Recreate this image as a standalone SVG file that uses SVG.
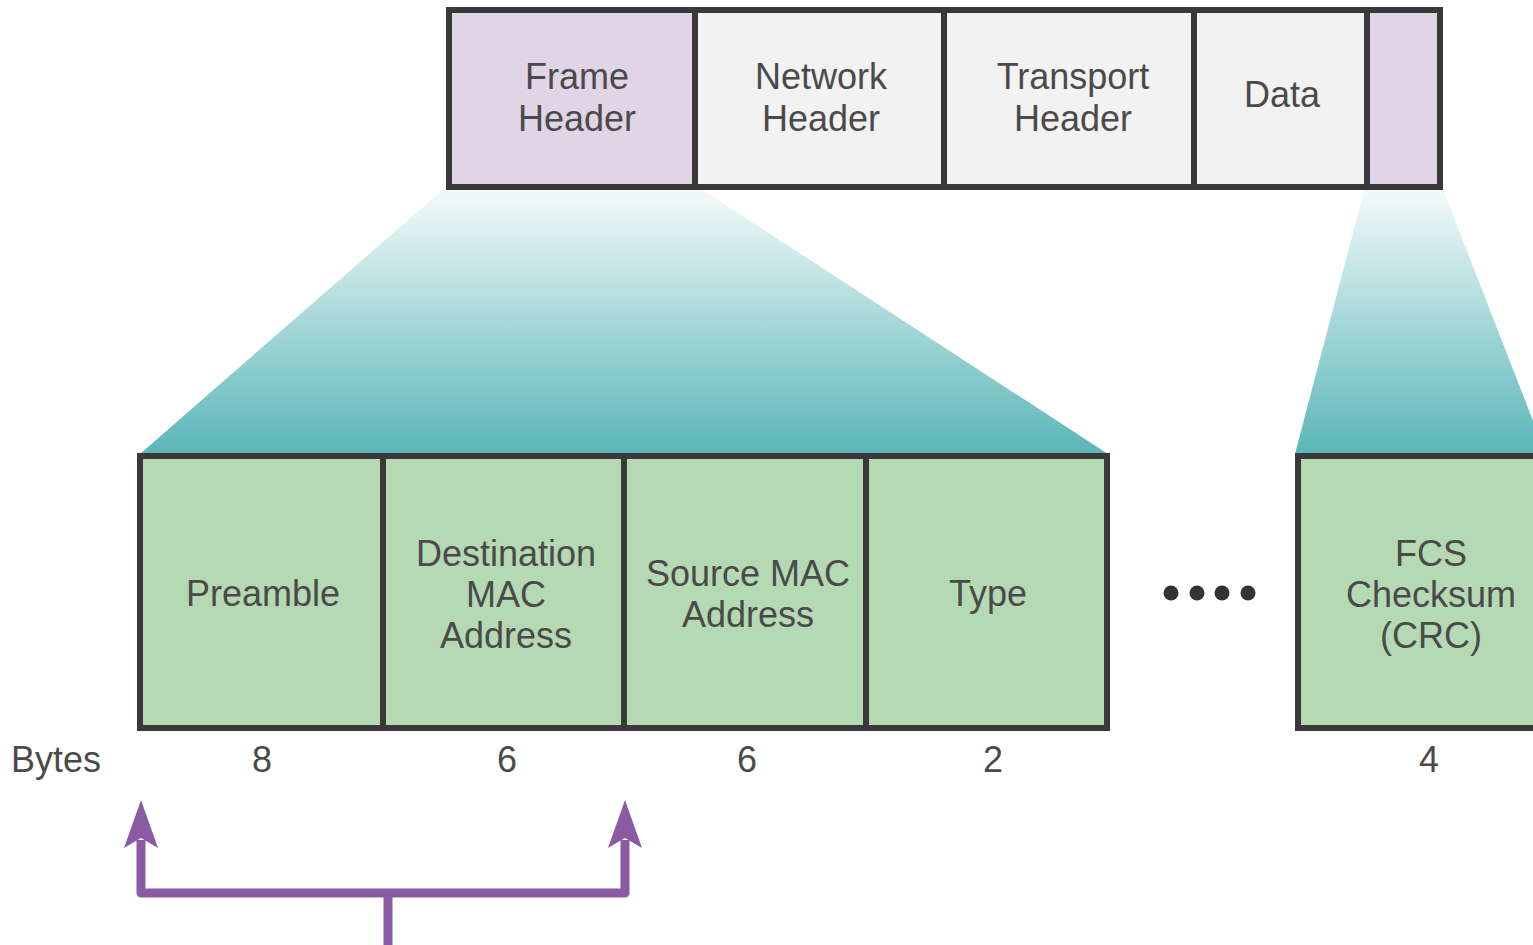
<svg xmlns="http://www.w3.org/2000/svg" width="1533" height="945" viewBox="0 0 1533 945">
<defs>
<linearGradient id="teal" x1="0" y1="0" x2="0" y2="1">
<stop offset="0" stop-color="#f4fbfa"/>
<stop offset="1" stop-color="#5bb6b8"/>
</linearGradient>
<style>
.box{stroke:#3a3839;stroke-width:6;}
.lav{fill:#e0d4e6;}
.gray{fill:#f2f2f2;}
.green{fill:#b5d9b3;}
.t{font-family:"Liberation Sans",Arial,sans-serif;font-size:36px;fill:#4a4a4a;text-anchor:middle;}
.conn{fill:none;stroke:#8a5aa2;stroke-width:9;stroke-linejoin:round;}
.head{fill:#8a5aa2;}
</style>
</defs>
<rect width="1533" height="945" fill="#ffffff"/>
<g id="expansions">
<polygon points="446,187 698,187 1108,454 140,454" fill="url(#teal)"/>
<polygon points="1365,187 1442,187 1546,454 1295,454" fill="url(#teal)"/>
</g>
<g id="frame-header"><rect class="box lav" x="449" y="10" width="246" height="177"/><text class="t" x="577" y="89">Frame</text><text class="t" x="577" y="131">Header</text></g>
<g id="network-header"><rect class="box gray" x="695" y="10" width="249" height="177"/><text class="t" x="821" y="89">Network</text><text class="t" x="821" y="131">Header</text></g>
<g id="transport-header"><rect class="box gray" x="944" y="10" width="250" height="177"/><text class="t" x="1073" y="89">Transport</text><text class="t" x="1073" y="131">Header</text></g>
<g id="data"><rect class="box gray" x="1194" y="10" width="173" height="177"/><text class="t" x="1282" y="107">Data</text></g>
<g id="trailer"><rect class="box lav" x="1367" y="10" width="73" height="177"/></g>
<g id="preamble"><rect class="box green" x="140" y="456" width="243" height="272"/><text class="t" x="263" y="606">Preamble</text></g>
<g id="dest-mac"><rect class="box green" x="383" y="456" width="241" height="272"/><text class="t" x="506" y="566">Destination</text><text class="t" x="506" y="607">MAC</text><text class="t" x="506" y="648">Address</text></g>
<g id="src-mac"><rect class="box green" x="624" y="456" width="242" height="272"/><text class="t" x="748" y="586">Source MAC</text><text class="t" x="748" y="627">Address</text></g>
<g id="type"><rect class="box green" x="866" y="456" width="241" height="272"/><text class="t" x="988" y="606">Type</text></g>
<g id="ellipsis" fill="#333"><circle cx="1171" cy="593" r="7.5"/><circle cx="1197" cy="593" r="7.5"/><circle cx="1222" cy="593" r="7.5"/><circle cx="1248" cy="593" r="7.5"/></g>
<g id="fcs"><rect class="box green" x="1298" y="456" width="260" height="272"/><text class="t" x="1431" y="566">FCS</text><text class="t" x="1431" y="607">Checksum</text><text class="t" x="1431" y="648">(CRC)</text></g>
<g id="bytes">
<text class="t" x="56" y="772">Bytes</text>
<text class="t" x="262" y="772">8</text>
<text class="t" x="507" y="772">6</text>
<text class="t" x="747" y="772">6</text>
<text class="t" x="993" y="772">2</text>
<text class="t" x="1429" y="772">4</text>
</g>
<g id="connectors">
<path class="conn" d="M141,840 V893 H625 V840"/>
<path class="conn" d="M388,893 V945"/>
<path class="head" d="M141,800 L158,848 L141,838 L124,848 Z"/>
<path class="head" d="M625,800 L642,848 L625,838 L608,848 Z"/>
</g>
</svg>
